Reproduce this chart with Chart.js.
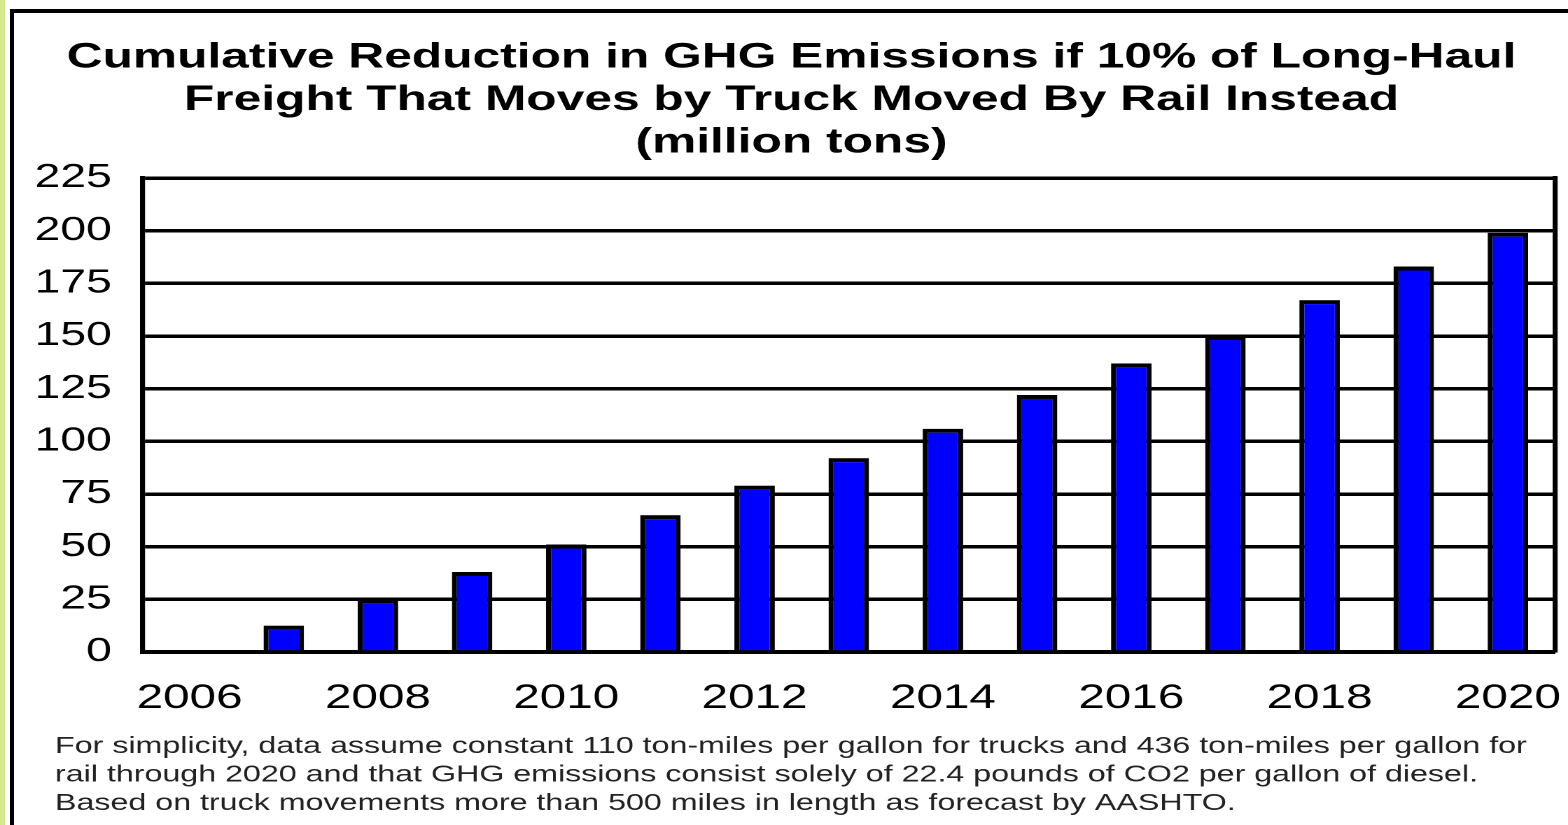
<!DOCTYPE html>
<html>
<head>
<meta charset="utf-8">
<script src="https://cdn.jsdelivr.net/npm/chart.js@4"></script>
<style>
  html, body { margin: 0; padding: 0; background: #fff; width: 1568px; height: 825px; overflow: hidden; }
  #strip { position: absolute; left: 0; top: 0; width: 5px; height: 825px; background: #d3e98b; }
  #frame { position: absolute; left: 10px; top: 9px; width: 1600px; height: 900px; border-left: 4px solid #000; border-top: 4px solid #000; }
  #wrap { position: absolute; left: 0; top: 0; width: 1120px; height: 825px; transform: scaleX(1.4); transform-origin: 0 0; }
</style>
</head>
<body>
<div id="strip"></div>
<div id="frame"></div>
<div id="wrap"><canvas id="c"></canvas></div>
<script>
const years = ['2006','2007','2008','2009','2010','2011','2012','2013','2014','2015','2016','2017','2018','2019','2020'];
const tickLabels = ['2006','','2008','','2010','','2012','','2014','','2016','','2018','','2020'];
const reduction = [0, 12.5, 25, 38, 51, 65, 79, 92, 106, 122, 137, 150, 167, 183, 199];
const titleLines = [
  'Cumulative Reduction in GHG Emissions if 10% of Long-Haul',
  'Freight That Moves by Truck Moved By Rail Instead',
  '(million tons)'
];
const noteLines = [
  'For simplicity, data assume constant 110 ton-miles per gallon for trucks and 436 ton-miles per gallon for',
  'rail through 2020 and that GHG emissions consist solely of 22.4 pounds of CO2 per gallon of diesel.',
  'Based on truck movements more than 500 miles in length as forecast by AASHTO.'
];

Chart.defaults.font.family = '"Liberation Sans", Arial, sans-serif';
Chart.defaults.color = '#000';

const footnote = {
  id: 'footnote',
  afterDraw(chart) {
    const ctx = chart.ctx;
    ctx.save();
    ctx.font = '23px "Liberation Sans", Arial, sans-serif';
    ctx.fillStyle = '#222';
    ctx.textAlign = 'left';
    ctx.textBaseline = 'alphabetic';
    noteLines.forEach((t, i) => ctx.fillText(t, 39.3, 753 + i * 28.5));
    ctx.restore();
  }
};

new Chart(document.getElementById('c'), {
  type: 'bar',
  data: {
    labels: years,
    datasets: [{
      data: reduction,
      backgroundColor: '#0000ff',
      borderColor: '#000',
      borderWidth: { top: 4, left: 3.6, right: 3.6, bottom: 0 },
      borderSkipped: 'start',
      categoryPercentage: 1,
      barPercentage: 0.43
    }]
  },
  options: {
    responsive: true,
    maintainAspectRatio: false,
    animation: false,
    devicePixelRatio: 2,
    layout: { padding: { left: 20, right: 9.3, top: 0, bottom: 0 } },
    plugins: {
      legend: { display: false },
      tooltip: { enabled: false },
      title: {
        display: true,
        text: titleLines,
        color: '#000',
        font: { size: 35.5, weight: 'bold', lineHeight: 42.5 / 35.5 },
        padding: { top: 36.5, bottom: 14 }
      }
    },
    scales: {
      x: {
        grid: { display: false, drawTicks: false },
        border: { display: true, color: '#000', width: 4 },
        ticks: {
          autoSkip: false, maxRotation: 0, minRotation: 0,
          padding: 26,
          font: { size: 34 },
          color: '#000',
          callback: (v, i) => tickLabels[i]
        },
        afterFit(s) { s.height = 825 - 652; s.paddingLeft = 0; s.paddingRight = 0; }
      },
      y: {
        min: 0, max: 225,
        ticks: { stepSize: 25, padding: 22, font: { size: 33 }, color: '#000' },
        grid: { color: '#000', lineWidth: 3.5, drawTicks: false },
        border: { display: true, color: '#000', width: 3.6 },
        afterFit(s) { s.width = 101.8 - 20; }
      },
      y2: {
        position: 'right',
        min: 0, max: 225,
        ticks: { display: false },
        grid: { display: false, drawTicks: false },
        border: { display: true, color: '#000', width: 3.6 },
        afterFit(s) { s.width = 0; s.paddingTop = 0; s.paddingBottom = 0; }
      }
    }
  },
  plugins: [footnote]
});
</script>
</body>
</html>
